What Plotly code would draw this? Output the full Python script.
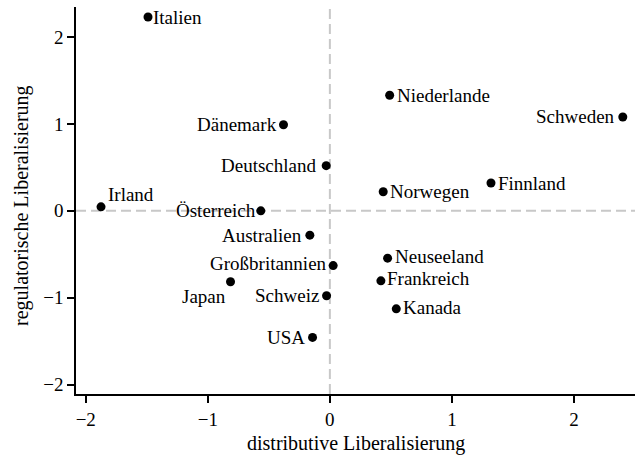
import plotly.graph_objects as go

countries = ["Italien", "Dänemark", "Irland", "Österreich", "Deutschland", "Niederlande",
             "Schweden", "Norwegen", "Finnland", "Australien", "Großbritannien", "Japan",
             "Schweiz", "USA", "Neuseeland", "Frankreich", "Kanada"]
distributive = [-1.49, -0.38, -1.875, -0.566, -0.03, 0.49,
                2.40, 0.437, 1.32, -0.164, 0.027, -0.814,
                -0.027, -0.142, 0.473, 0.418, 0.544]
regulatory = [2.23, 0.99, 0.046, 0.0, 0.52, 1.33,
              1.08, 0.22, 0.32, -0.28, -0.63, -0.816,
              -0.977, -1.456, -0.544, -0.805, -1.127]
x_ticks = [-2, -1, 0, 1, 2]
y_ticks = [-2, -1, 0, 1, 2]
x_title = "distributive Liberalisierung"
y_title = "regulatorische Liberalisierung"

# label placement (anchor side, pixel shifts)
label_style = {
    "Italien": ("left", 3, 0), "Dänemark": ("right", -4, 0), "Irland": ("left", 5, 12),
    "Österreich": ("right", -3, 0), "Deutschland": ("right", -8, 0), "Niederlande": ("left", 5, 0),
    "Schweden": ("right", -6, 0), "Norwegen": ("left", 5, 0), "Finnland": ("left", 5, 0),
    "Australien": ("right", -6, 0), "Großbritannien": ("right", -4, 2), "Japan": ("right", -3, -15),
    "Schweiz": ("right", -6, 0), "USA": ("right", -6, 0), "Neuseeland": ("left", 5, 2),
    "Frankreich": ("left", 4, 2), "Kanada": ("left", 5, 1),
}

FONT = "Liberation Serif"

fig = go.Figure()
fig.add_trace(go.Scatter(
    x=distributive, y=regulatory, text=countries,
    mode="markers",
    marker=dict(color="black", size=9),
    cliponaxis=False, showlegend=False, hoverinfo="text",
))

annotations = []
for c, xv, yv in zip(countries, distributive, regulatory):
    side, dx, dy = label_style[c]
    annotations.append(dict(
        x=xv, y=yv, xref="x", yref="y", text=c, showarrow=False,
        xanchor=side, yanchor="middle", xshift=dx, yshift=dy,
        font=dict(family=FONT, size=19, color="black"),
    ))
annotations.append(dict(
    x=0.5, y=-0.127, xref="paper", yref="paper", text=x_title, showarrow=False,
    xanchor="center", yanchor="middle", font=dict(family=FONT, size=20, color="black"),
))
annotations.append(dict(
    x=-0.0966, y=0.486, xref="paper", yref="paper", text=y_title, showarrow=False,
    textangle=-90, xanchor="center", yanchor="middle", font=dict(family=FONT, size=20, color="black"),
))

dash_line = dict(color="#c8c8c8", width=2, dash="10px,5px")
fig.add_shape(type="line", xref="x", yref="paper", x0=0, x1=0, y0=0, y1=1, line=dash_line, layer="below")
fig.add_shape(type="line", xref="paper", yref="y", x0=0, x1=1, y0=0, y1=0, line=dash_line, layer="below")

axis_common = dict(
    showgrid=False, zeroline=False, showline=True, linecolor="black", linewidth=1.5,
    ticks="outside", ticklen=7, tickwidth=1.5, tickcolor="black",
    tickfont=dict(family=FONT, size=19, color="black"), automargin=False,
)

fig.update_layout(
    width=635, height=457,
    margin=dict(l=76, r=0, t=7, b=63),
    plot_bgcolor="white", paper_bgcolor="white",
    font=dict(family=FONT, color="black"),
    xaxis=dict(range=[-2.08, 2.5], tickvals=x_ticks, **axis_common),
    yaxis=dict(range=[-2.107, 2.345], tickvals=y_ticks, **axis_common),
    annotations=annotations,
)

fig.write_html("out.html", config={"displayModeBar": False},
               post_script="document.body.style.margin='0px';document.body.style.overflow='hidden';")
